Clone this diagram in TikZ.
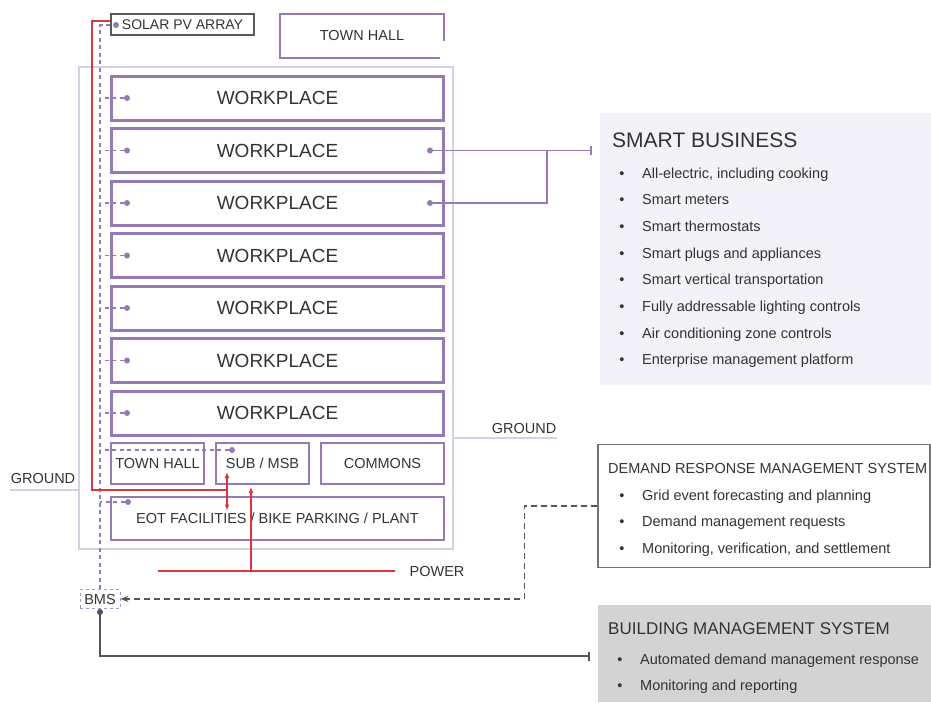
\documentclass[tikz,border=0pt]{standalone}
\usepackage{fontspec}
\setmainfont{Liberation Sans}
\usetikzlibrary{arrows.meta}
\definecolor{wp}{RGB}{150,122,182}
\definecolor{bldg}{RGB}{216,206,230}
\definecolor{pwr}{RGB}{222,52,62}
\definecolor{ink}{RGB}{51,51,51}
\definecolor{ctl}{RGB}{85,85,85}
\definecolor{frame}{RGB}{115,115,115}
\definecolor{sbfill}{RGB}{243,242,248}
\definecolor{bmsfill}{RGB}{211,211,211}
\newcommand{\px}[1]{\fontsize{#1}{#1}\selectfont}
\tikzset{
  shell/.style={draw=bldg,line width=1.5pt,minimum width=374pt,minimum height=482pt},
  wpbox/.style={draw=wp,line width=3pt,minimum width=332pt,minimum height=44pt,inner sep=0pt,font=\px{19},text=ink},
  roombox/.style={draw=wp,line width=2pt,minimum height=41pt,inner sep=0pt,font=\px{14.5},text=ink},
  thbox/.style={draw=wp,line width=2pt,minimum width=164pt,minimum height=44pt,font=\px{14.5},text=ink},
  pvbox/.style={draw=gray!70!black,line width=1.5pt,minimum width=143pt,minimum height=21pt,inner sep=0pt,font=\px{14},text=ink},
  bmsbox/.style={draw=wp!80,dashed,line width=1pt,minimum width=40pt,minimum height=19pt,inner sep=1pt,font=\px{14.5},text=ink},
  tapdot/.style={circle,fill=wp,inner sep=0pt,minimum size=6pt},
  bus/.style={draw=wp,line width=1.2pt,dash pattern=on 4pt off 3.5pt},
  pline/.style={draw=pwr,line width=2pt,>={Latex[length=6pt,width=5pt]}},
  link/.style={draw=wp,line width=1.5pt},
  ctrl/.style={draw=ctl,line width=1.5pt},
  dashctrl/.style={ctrl,dash pattern=on 6pt off 4pt},
  gnd/.style={draw=bldg,line width=2pt},
  lbl/.style={inner sep=2pt,font=\px{14.5},text=ink},
  panel/.style={inner sep=0pt},
  hd/.style={anchor=west,inner sep=0pt,text=ink},
  bul/.style={inner sep=0pt,font=\px{14.5},text=ink,text height=11pt,text depth=1pt},
  item/.style={anchor=west,inner sep=0pt,font=\px{14.5},text=ink,text height=11pt,text depth=1pt}
}
\newcommand{\bulletlist}[5]{%
  \foreach \txt [count=\k] in {#5} {
    \node[bul] (#1b\k) at (#2,{#3+(\k-1)*#4}) {\textbullet};
    \node[item] (#1t\k) at ([xshift=20pt]#1b\k.center) {\txt};
  }
}

\begin{document}
\begin{tikzpicture}[x=1pt,y=-1pt]
  \useasboundingbox (0,0) rectangle (931,702);
  \node[shell] (bldg) at (266,308) {};
  \node[pvbox] (solar) at (182.5,24.5) {SOLAR PV ARRAY};
  \node[thbox] (hall) at (362,36) {TOWN HALL};
  \fill[white] (440,41) rectangle (449,62);
  \foreach \i in {1,...,7} {
    \node[wpbox] (wp\i) at (277.5,{98+52.5*(\i-1)}) {WORKPLACE};
    \node[tapdot] (tp\i) at ([xshift=17pt]wp\i.west) {};
  }
  \node[roombox,minimum width=93pt] (town) at (157.5,463.5) {TOWN HALL};
  \node[roombox,minimum width=93pt] (sub) at (262.5,463.5) {SUB / MSB};
  \node[roombox,minimum width=123pt] (commons) at (382.5,463.5) {COMMONS};
  \node[roombox,minimum width=333pt,minimum height=43pt] (eot) at (277.5,518) {EOT FACILITIES / BIKE PARKING / PLANT};
  \node[tapdot] (tpsub) at (232,450) {};
  \node[tapdot] (tpeot) at (128,502) {};
  \node[tapdot] (tpsolar) at (116,25) {};
  \node[bmsbox] (bms) at (100,599) {BMS};
  \coordinate (busx) at (100,0);
  \draw[bus] (bms.north) |- (tpsolar);
  \foreach \i in {1,...,7} \draw[bus] (tp\i) -- (tp\i -| busx);
  \draw[bus] (tpsub) -- (tpsub -| busx);
  \draw[bus] (tpeot) -- (tpeot -| busx);

  \coordinate (rc) at (92,490);
  \coordinate (rj) at (227,490);
  \draw[pline] ([yshift=4pt]solar.west) -| (rc) -- (rj);
  \draw[pline,<->] ([yshift=13pt]sub.south -| rj) -- ([yshift=-15pt]eot.north -| rj);
  \node[lbl] (power) at (437,571) {POWER};
  \coordinate (pw) at (158,571);
  \coordinate (feed) at (251,571);
  \draw[pline] (pw) -- ([xshift=-12pt]power.west);
  \draw[pline,->] (feed) -- ([yshift=-2pt]feed |- sub.south);

  \node[lbl] (gndl) at (43,478) {GROUND};
  \coordinate (gl) at (10,490);
  \draw[gnd] (gl) -- (gl -| bldg.west);
  \node[lbl] (gndr) at (524,428) {GROUND};
  \coordinate (gr) at (557,438);
  \draw[gnd] (gr) -- (gr -| bldg.east);

  \node[panel,fill=sbfill,minimum width=331pt,minimum height=272pt] (smart) at (765.5,249) {};
  \node[hd,font=\px{21}] (smarthd) at (612,140) {SMART BUSINESS};
  \bulletlist{sb}{622}{173}{26.7}{{All-electric, including cooking},Smart meters,Smart thermostats,Smart plugs and appliances,Smart vertical transportation,Fully addressable lighting controls,Air conditioning zone controls,Enterprise management platform}
  \node[tapdot] (sbt2) at ([xshift=-15pt]wp2.east) {};
  \node[tapdot] (sbt3) at ([xshift=-15pt]wp3.east) {};
  \coordinate (sbj) at (547,0);
  \draw[link,-{Bar[width=9pt]}] (sbt2) -- ([xshift=-8pt]smart.west |- sbt2);
  \draw[link] (sbt3) -| (sbj |- sbt2);

  \node[panel,draw=frame,line width=1.5pt,fill=white,minimum width=332pt,minimum height=123pt] (drms) at (764,506) {};
  \node[hd,font=\px{14.5}] (drmshd) at (608,468) {DEMAND RESPONSE MANAGEMENT SYSTEM};
  \bulletlist{dr}{622}{495}{26.5}{Grid event forecasting and planning,Demand management requests,{Monitoring, verification, and settlement}}

  \node[panel,fill=bmsfill,minimum width=333pt,minimum height=97pt] (bmspanel) at (764.5,653.5) {};
  \node[hd,font=\px{17}] (bmshd) at (608,629) {BUILDING MANAGEMENT SYSTEM};
  \bulletlist{bm}{620}{659}{26}{Automated demand management response,Monitoring and reporting}

  \draw[dashctrl,-{Stealth[length=8pt,width=6pt]}] (drms.west) -- ++(-73,0) |- (bms.east);
  \draw[ctrl,{Circle[length=6pt]}-{Bar[width=9pt]}] (bms.south) |- ([xshift=-8pt,yshift=-2.5pt]bmspanel.west);
\end{tikzpicture}
\end{document}
